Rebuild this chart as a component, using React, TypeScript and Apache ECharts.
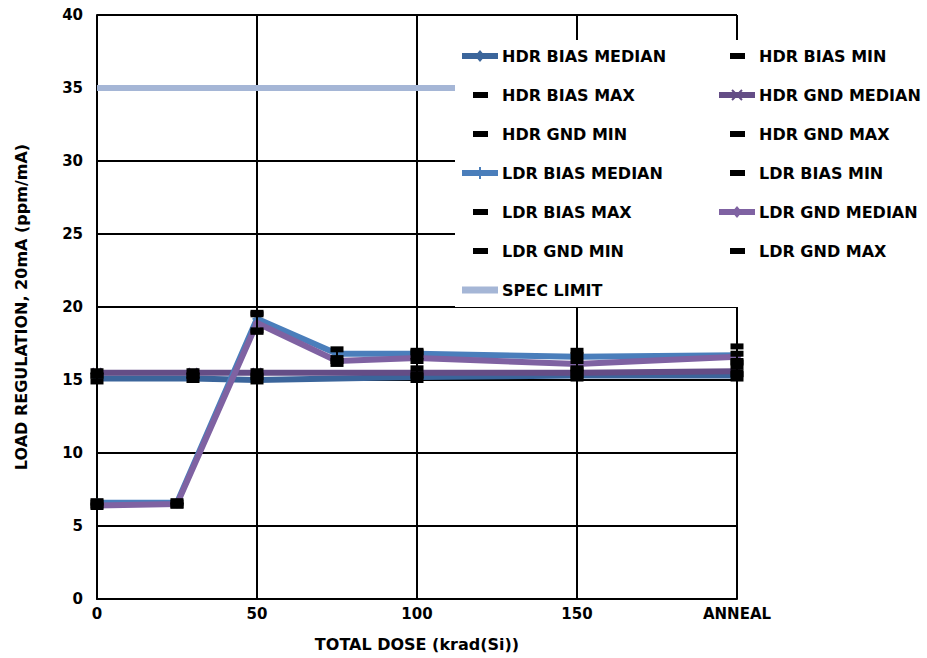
import React, { useEffect, useRef } from "react";
import * as echarts from "echarts";

// ---- data ----
const hdrDose = [0, 30, 50, 100, 150, 200];
const ldrDose = [0, 25, 50, 75, 100, 150, 200];
const annealDose = 200;
const annealLabel = "ANNEAL";

const hdrBiasMedian = [15.1, 15.1, 15.0, 15.2, 15.3, 15.3];
const hdrBiasMin = [14.9, 15.0, 14.9, 15.0, 15.1, 15.1];
const hdrBiasMax = [15.3, 15.3, 15.2, 15.4, 15.5, 15.5];
const hdrGndMedian = [15.5, 15.5, 15.5, 15.5, 15.5, 15.6];
const hdrGndMin = [15.3, 15.3, 15.3, 15.3, 15.3, 15.4];
const hdrGndMax = [15.6, 15.6, 15.6, 15.8, 15.8, 15.9];

const ldrBiasMedian = [6.6, 6.6, 19.2, 16.8, 16.8, 16.6, 16.7];
const ldrBiasMin = [6.4, 6.4, 18.3, 16.3, 16.6, 16.3, 16.3];
const ldrBiasMax = [6.7, 6.7, 19.6, 17.1, 17.0, 17.0, 17.3];
const ldrGndMedian = [6.4, 6.5, 18.9, 16.3, 16.5, 16.1, 16.6];
const ldrGndMin = [6.3, 6.4, 18.4, 16.1, 16.3, 15.7, 16.2];
const ldrGndMax = [6.6, 6.6, 19.5, 16.5, 16.9, 16.7, 16.8];

const specDose = [0, 200];
const specLimit = [35, 35];

const yTickMin = 0;
const yTickMax = 40;
const yTickStep = 5;
const xTickStep = 50;

// ---- styles ----
const FONT = "'DejaVu Sans', 'Liberation Sans', sans-serif";
const C_HDR_BIAS = "#3B659B";
const C_HDR_GND = "#644D86";
const C_LDR_BIAS = "#4A7EBB";
const C_LDR_GND = "#7F62A2";
const C_SPEC = "#A5B6D6";

const SYM_X = "path://M0,0L10,10M10,0L0,10";
const SYM_PLUS = "path://M5,0L5,10M0,5L10,5";

const pairs = (xs: number[], ys: number[]) => xs.map((x, i) => [x, ys[i]]);

type LegendItem = {
  name: string;
  kind: "line" | "dash";
  color?: string;
  marker?: "diamond" | "x" | "plus" | "none";
  width?: number;
};

const legendItems: LegendItem[] = [
  { name: "HDR BIAS MEDIAN", kind: "line", color: C_HDR_BIAS, marker: "diamond" },
  { name: "HDR BIAS MIN", kind: "dash" },
  { name: "HDR BIAS MAX", kind: "dash" },
  { name: "HDR GND MEDIAN", kind: "line", color: C_HDR_GND, marker: "x" },
  { name: "HDR GND MIN", kind: "dash" },
  { name: "HDR GND MAX", kind: "dash" },
  { name: "LDR BIAS MEDIAN", kind: "line", color: C_LDR_BIAS, marker: "plus" },
  { name: "LDR BIAS MIN", kind: "dash" },
  { name: "LDR BIAS MAX", kind: "dash" },
  { name: "LDR GND MEDIAN", kind: "line", color: C_LDR_GND, marker: "diamond" },
  { name: "LDR GND MIN", kind: "dash" },
  { name: "LDR GND MAX", kind: "dash" },
  { name: "SPEC LIMIT", kind: "line", color: C_SPEC, marker: "none", width: 7 },
];

function buildLegendGraphic() {
  const els: any[] = [];
  els.push({
    type: "rect",
    z: 100,
    shape: { x: 455, y: 40, width: 472, height: 267 },
    style: { fill: "#ffffff" },
  });
  const colIcon = [480, 737];
  const colText = [502, 759];
  legendItems.forEach((it, i) => {
    const col = i % 2;
    const row = Math.floor(i / 2);
    const cy = 56 + row * 39;
    const cx = colIcon[col];
    if (it.kind === "dash") {
      els.push({
        type: "rect",
        z: 101,
        shape: { x: cx - 7, y: cy - 3, width: 15, height: 6 },
        style: { fill: "#000000" },
      });
    } else {
      els.push({
        type: "line",
        z: 101,
        shape: { x1: cx - 18, y1: cy, x2: cx + 18, y2: cy },
        style: { stroke: it.color, lineWidth: it.width || 6 },
      });
      if (it.marker === "diamond") {
        els.push({
          type: "polygon",
          z: 102,
          shape: { points: [[cx, cy - 6], [cx + 5, cy], [cx, cy + 6], [cx - 5, cy]] },
          style: { fill: it.color },
        });
      } else if (it.marker === "x") {
        els.push({
          type: "line", z: 102,
          shape: { x1: cx - 5, y1: cy - 5, x2: cx + 5, y2: cy + 5 },
          style: { stroke: it.color, lineWidth: 2 },
        });
        els.push({
          type: "line", z: 102,
          shape: { x1: cx - 5, y1: cy + 5, x2: cx + 5, y2: cy - 5 },
          style: { stroke: it.color, lineWidth: 2 },
        });
      } else if (it.marker === "plus") {
        els.push({
          type: "line", z: 102,
          shape: { x1: cx, y1: cy - 6, x2: cx, y2: cy + 6 },
          style: { stroke: it.color, lineWidth: 2 },
        });
      }
    }
    els.push({
      type: "text",
      z: 102,
      x: colText[col],
      y: cy,
      style: {
        text: it.name,
        fill: "#000000",
        font: `bold 16px ${FONT}`,
        textVerticalAlign: "middle",
        verticalAlign: "middle",
        align: "left",
      },
    });
  });
  return els;
}

function medianSeries(name: string, xs: number[], ys: number[], color: string, symbol: string, stroke: boolean, z: number) {
  return {
    name,
    type: "line",
    data: pairs(xs, ys),
    z,
    symbol,
    symbolSize: 9,
    showSymbol: true,
    lineStyle: { color, width: 6 },
    itemStyle: stroke
      ? { color: "rgba(0,0,0,0)", borderColor: color, borderWidth: 2 }
      : { color, borderWidth: 0 },
    emphasis: { disabled: true },
  };
}

function dashSeries(name: string, xs: number[], ys: number[]) {
  return {
    name,
    type: "scatter",
    data: pairs(xs, ys),
    z: 6,
    symbol: "rect",
    symbolSize: [13, 6],
    itemStyle: { color: "#000000", opacity: 1 },
    emphasis: { disabled: true },
  };
}

function errorBarSeries(name: string, xs: number[], lo: number[], hi: number[]) {
  return {
    name,
    type: "custom",
    z: 5,
    data: xs.map((x, i) => [x, lo[i], hi[i]]),
    renderItem: (_p: any, api: any) => {
      const a = api.coord([api.value(0), api.value(1)]);
      const b = api.coord([api.value(0), api.value(2)]);
      return {
        type: "line",
        shape: { x1: a[0], y1: a[1], x2: b[0], y2: b[1] },
        style: { stroke: "#000000", lineWidth: 2 },
      };
    },
  };
}

export default function App() {
  const ref = useRef<HTMLDivElement>(null);
  useEffect(() => {
    const chart = echarts.init(ref.current!, null, { renderer: "svg" });
    const option: any = {
      animation: false,
      backgroundColor: "#ffffff",
      grid: { left: 97, top: 15, right: 190, bottom: 59, containLabel: false },
      xAxis: {
        type: "value",
        min: 0,
        max: annealDose,
        interval: xTickStep,
        name: "TOTAL DOSE (krad(Si))",
        nameLocation: "middle",
        nameGap: 37,
        nameTextStyle: { fontFamily: FONT, fontWeight: "bold", fontSize: 16, color: "#000" },
        axisLine: { show: true, lineStyle: { color: "#000", width: 2 } },
        axisTick: { show: false },
        axisLabel: {
          margin: 7,
          fontFamily: FONT,
          fontWeight: "bold",
          fontSize: 15,
          color: "#000",
          formatter: (v: number) => (v === annealDose ? annealLabel : String(v)),
        },
        splitLine: { show: true, lineStyle: { color: "#000", width: 2 } },
      },
      yAxis: {
        type: "value",
        min: yTickMin,
        max: yTickMax,
        interval: yTickStep,
        name: "LOAD REGULATION, 20mA (ppm/mA)",
        nameLocation: "middle",
        nameGap: 68,
        nameTextStyle: { fontFamily: FONT, fontWeight: "bold", fontSize: 16, color: "#000" },
        axisLine: { show: true, lineStyle: { color: "#000", width: 2 } },
        axisTick: { show: false },
        axisLabel: {
          margin: 14,
          fontFamily: FONT,
          fontWeight: "bold",
          fontSize: 15,
          color: "#000",
        },
        splitLine: { show: true, lineStyle: { color: "#000", width: 2 } },
      },
      series: [
        {
          name: "SPEC LIMIT",
          type: "line",
          data: pairs(specDose, specLimit),
          symbol: "none",
          z: 2,
          lineStyle: { color: C_SPEC, width: 6 },
          emphasis: { disabled: true },
        },
        medianSeries("HDR BIAS MEDIAN", hdrDose, hdrBiasMedian, C_HDR_BIAS, "diamond", false, 3),
        medianSeries("HDR GND MEDIAN", hdrDose, hdrGndMedian, C_HDR_GND, SYM_X, true, 3),
        medianSeries("LDR BIAS MEDIAN", ldrDose, ldrBiasMedian, C_LDR_BIAS, SYM_PLUS, true, 3),
        medianSeries("LDR GND MEDIAN", ldrDose, ldrGndMedian, C_LDR_GND, "diamond", false, 4),
        errorBarSeries("HDR BIAS RANGE", hdrDose, hdrBiasMin, hdrBiasMax),
        errorBarSeries("HDR GND RANGE", hdrDose, hdrGndMin, hdrGndMax),
        errorBarSeries("LDR BIAS RANGE", ldrDose, ldrBiasMin, ldrBiasMax),
        errorBarSeries("LDR GND RANGE", ldrDose, ldrGndMin, ldrGndMax),
        dashSeries("HDR BIAS MIN", hdrDose, hdrBiasMin),
        dashSeries("HDR BIAS MAX", hdrDose, hdrBiasMax),
        dashSeries("HDR GND MIN", hdrDose, hdrGndMin),
        dashSeries("HDR GND MAX", hdrDose, hdrGndMax),
        dashSeries("LDR BIAS MIN", ldrDose, ldrBiasMin),
        dashSeries("LDR BIAS MAX", ldrDose, ldrBiasMax),
        dashSeries("LDR GND MIN", ldrDose, ldrGndMin),
        dashSeries("LDR GND MAX", ldrDose, ldrGndMax),
      ],
      graphic: buildLegendGraphic(),
    };
    chart.setOption(option);
    return () => chart.dispose();
  }, []);
  return (
    <div
      ref={ref}
      style={{ position: "absolute", left: 0, top: 0, width: 927, height: 658 }}
    />
  );
}
